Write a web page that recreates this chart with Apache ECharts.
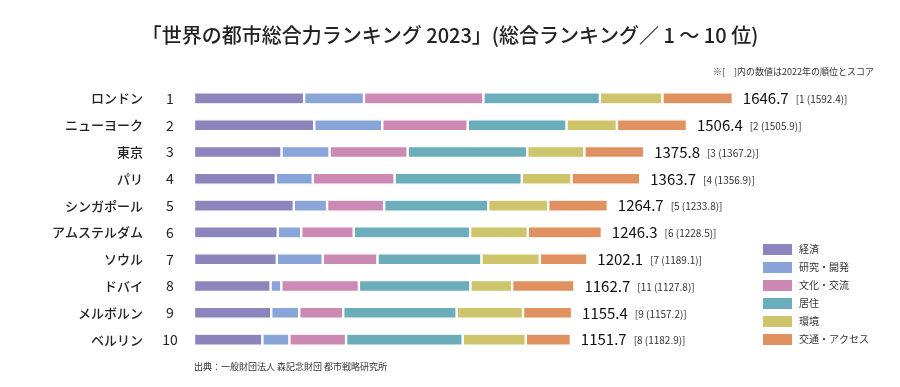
<!DOCTYPE html>
<html>
<head>
<meta charset="utf-8">
<script src="https://cdn.jsdelivr.net/npm/echarts@6/dist/echarts.min.js"></script>
<style>
html,body{margin:0;padding:0;background:#fff;}
#chart{width:900px;height:387px;}
</style>
</head>
<body>
<div id="chart"></div>
<script>
const cities = ['ロンドン','ニューヨーク','東京','パリ','シンガポール','アムステルダム','ソウル','ドバイ','メルボルン','ベルリン'];
const ranks = [1,2,3,4,5,6,7,8,9,10];
const totals = ['1646.7','1506.4','1375.8','1363.7','1264.7','1246.3','1202.1','1162.7','1155.4','1151.7'];
const prevRanks = [1,2,3,4,5,6,7,11,9,8];
const prevScores = ['1592.4','1505.9','1367.2','1356.9','1233.8','1228.5','1189.1','1127.8','1157.2','1182.9'];
const seriesNames = ['経済','研究・開発','文化・交流','居住','環境','交通・アクセス'];
const economy     = [336.5, 367.4, 267.5, 250.0, 305.0, 256.0, 253.0, 234.0, 236.0, 209.0];
const research    = [183.0, 208.0, 146.8, 113.0, 101.7,  71.7, 140.4,  32.9,  85.6,  82.6];
const culture     = [365.0, 261.0, 238.6, 250.0, 174.4, 160.4, 167.3, 237.0, 134.4, 173.2];
const livability  = [356.0, 302.0, 365.4, 388.7, 318.0, 355.7, 317.7, 340.8, 346.5, 356.2];
const environment = [191.0, 154.0, 174.7, 152.0, 183.4, 176.3, 178.3, 127.5, 203.0, 192.8];
const access      = [215.2, 214.0, 182.8, 210.0, 182.2, 226.2, 145.4, 190.5, 149.9, 137.9];
const colors = ['#8b84bd','#88a4d8','#cc89b4','#6badbb','#cdc46b','#e0915f'];

const FONT = '"Noto Sans CJK JP", "Noto Sans", sans-serif';
const values = [economy, research, culture, livability, environment, access];

const series = values.map((arr, i) => {
  const s = {
    name: seriesNames[i],
    type: 'bar',
    stack: 'total',
    data: arr,
    barWidth: 12,
    itemStyle: { color: colors[i], borderColor: '#fff', borderWidth: 1.2 },
    emphasis: { disabled: true },
    animation: false
  };
  if (i === values.length - 1) {
    s.label = {
      show: true,
      position: 'right',
      distance: 10,
      formatter: p => '{t|' + totals[p.dataIndex] + '}{p|[' + prevRanks[p.dataIndex] + ' (' + prevScores[p.dataIndex] + ')]}',
      rich: {
        t: { fontSize: 15, color: '#111', fontFamily: FONT },
        p: { fontSize: 10, color: '#333', fontFamily: FONT, padding: [2, 0, 0, 7] }
      }
    };
  }
  return s;
});

const chart = echarts.init(document.getElementById('chart'));
chart.setOption({
  backgroundColor: '#fff',
  animation: false,
  title: {
    text: '「世界の都市総合力ランキング 2023」(総合ランキング／ 1 ～ 10 位)',
    left: 'center',
    top: 20,
    textStyle: { fontSize: 20, fontWeight: 500, color: '#222', fontFamily: FONT }
  },
  graphic: [
    { type: 'text', right: 26, top: 67, style: { text: '※[　]内の数値は2022年の順位とスコア', fontSize: 9, fill: '#333', fontFamily: FONT } },
    { type: 'text', left: 194, top: 362, style: { text: '出典：一般財団法人 森記念財団 都市戦略研究所', fontSize: 9, fill: '#333', fontFamily: FONT } }
  ],
  legend: {
    orient: 'vertical',
    left: 763,
    top: 244,
    padding: 0,
    itemWidth: 29,
    itemHeight: 11,
    itemGap: 7,
    icon: 'rect',
    itemStyle: { borderWidth: 0 },
    textStyle: { fontSize: 10, color: '#333', fontFamily: FONT, padding: [0, 0, 0, 2] },
    data: seriesNames
  },
  grid: { left: 194, right: 117, top: 85, bottom: 34 },
  xAxis: { type: 'value', min: 0, max: 1800, show: false },
  yAxis: {
    type: 'category',
    inverse: true,
    data: cities,
    axisLine: { show: false },
    axisTick: { show: false },
    axisLabel: {
      margin: 0,
      formatter: (v, i) => '{c|' + v + '}{n|' + ranks[i] + '}',
      rich: {
        c: { fontSize: 13, fontWeight: 500, color: '#222', fontFamily: FONT, align: 'right', padding: [0, 3, 0, 0] },
        n: { fontSize: 14, color: '#222', fontFamily: FONT, width: 48, align: 'center' }
      }
    }
  },
  series: series
});
</script>
</body>
</html>
